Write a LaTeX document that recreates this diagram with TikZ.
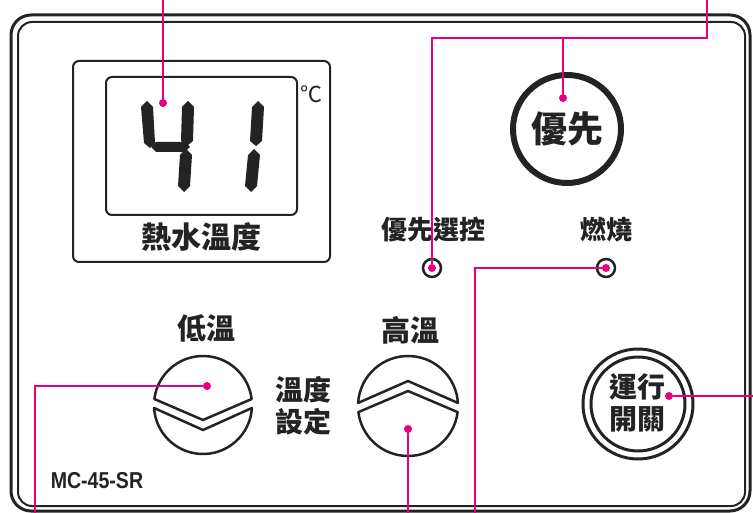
\documentclass[tikz,border=0pt]{standalone}
\usepackage{fontspec}
\usepackage{xcolor}
\usepackage{tikz}
\usetikzlibrary{calc}
\newfontfamily\cjk{Noto Sans CJK TC}
\newfontfamily\lbl{Liberation Sans}
\definecolor{leadpink}{RGB}{230,0,126}
\definecolor{panelink}{RGB}{35,35,35}

\tikzset{
  lead/.style={leadpink, line width=1.5pt},
  leaddot/.style={circle, fill=leadpink, inner sep=0pt, minimum size=8pt},
  cjklabel/.style 2 args={panelink, inner sep=0pt, font=\cjk\bfseries\fontsize{#1}{#2}\selectfont},
  segm/.style={fill=panelink},
  knob/.style={panelink, line width=2.5pt, line join=round},
  ring/.style={circle, draw=panelink, inner sep=0pt},
}

\begin{document}
\begin{tikzpicture}[x=1pt, y=-1pt]
    \useasboundingbox (0,0) rectangle (753,513);

    % Panel frame
    \draw[panelink, line width=3pt, rounded corners=20pt] (11,15) rectangle (750,511);
    \draw[panelink, line width=2pt, rounded corners=14pt] (18,22) rectangle (745,506);

    % Temperature display
    \draw[panelink, line width=2pt, rounded corners=6pt] (73,61) rectangle (330,262);
    \draw[panelink, line width=2pt, rounded corners=6pt] (106,77) rectangle (297,215);
    \node[cjklabel={30}{30}] (temp) at (201,237) {熱水溫度};
    \node[panelink, inner sep=0pt, font=\cjk\fontsize{22}{22}\selectfont] (degc) at (311,94) {℃};

    % Digit 4
    \fill[segm] (147,101) -- (153,107) -- (155,143) -- (150,148) -- (144,143) -- (141,107) -- cycle;
    \fill[segm] (151,147) -- (156,142) -- (185,142) -- (190,147) -- (185,152) -- (156,152) -- cycle;
    \fill[segm] (188,101) -- (194,107) -- (193,141) -- (187,146) -- (181,141) -- (182,107) -- cycle;
    \fill[segm] (186,149) -- (192,155) -- (190,186) -- (184,192) -- (178,186) -- (180,155) -- cycle;
    % Digit 1
    \fill[segm] (258,101) -- (264,107) -- (262,141) -- (256,146) -- (250,141) -- (252,107) -- cycle;
    \fill[segm] (254,149) -- (260,155) -- (257,186) -- (251,192) -- (245,186) -- (248,155) -- cycle;

    % Priority button and lamps
    \node[ring, line width=6pt, minimum size=108pt, cjklabel={36}{36}] (prio) at (567,129) {優先};
    \node[cjklabel={26}{26}] (priosel) at (433,230) {優先選控};
    \node[cjklabel={26}{26}] (burn) at (606,230) {燃燒};
    \node[ring, line width=2.5pt, minimum size=18pt] (ledsel) at (432,268) {};
    \node[ring, line width=2.5pt, minimum size=18pt] (ledburn) at (606,268) {};

    % Temperature setting buttons
    \node[cjklabel={29}{29}] (low) at (206,328) {低溫};
    \node[cjklabel={29}{29}] (high) at (410,330) {高溫};
    \node[cjklabel={28}{32}, align=center] (tset) at (303,406) {溫度\\設定};
    \begin{scope}[shift={(203,405)}]
      \draw[knob] (187:49) arc[start angle=187, end angle=353, radius=49] -- (0,15) -- cycle;
      \draw[knob] (3.5:49) arc[start angle=3.5, end angle=176.5, radius=49] -- (0,25) -- cycle;
    \end{scope}
    \begin{scope}[shift={(408,406)}]
      \draw[knob] (183.5:50) arc[start angle=183.5, end angle=356.5, radius=50] -- (0,-25) -- cycle;
      \draw[knob] (7:50) arc[start angle=7, end angle=173, radius=50] -- (0,-15) -- cycle;
    \end{scope}

    % Run switch
    \node[ring, line width=3pt, minimum size=110pt] (run) at (638,404) {};
    \node[ring, line width=3pt, minimum size=94pt] (runin) at (638,404) {};
    \node[cjklabel={28}{32}, align=center] (runtext) at (637,403) {運行\\開關};

    % Model name
    \node[panelink, inner sep=0pt, xscale=0.85, font=\lbl\bfseries\fontsize{23}{23}\selectfont] (model) at (97,481) {MC-45-SR};

    % Leader lines
    \node[leaddot] (dtemp) at (163,103) {};
    \node[leaddot] (dprio) at (563,98) {};
    \node[leaddot] (dsel) at (432,268) {};
    \node[leaddot] (dburn) at (606,268) {};
    \node[leaddot] (dlow) at (207,386) {};
    \node[leaddot] (dhigh) at (408,429) {};
    \node[leaddot] (drun) at (669,396) {};
    \coordinate (etemp) at (163,0);
    \coordinate (bprio) at (707,38);
    \coordinate (eprio) at (707,0);
    \coordinate (eburn) at (475,513);
    \coordinate (elow) at (35,513);
    \coordinate (ehigh) at (408,513);
    \coordinate (erun) at (753,396);
    \draw[lead] (dtemp) -- (etemp);
    \draw[lead] (dsel) |- (bprio) -- (eprio);
    \draw[lead] (dprio) -- (dprio |- bprio);
    \draw[lead] (dburn) -| (eburn);
    \draw[lead] (dlow) -| (elow);
    \draw[lead] (dhigh) -- (ehigh);
    \draw[lead] (drun) -- (erun);
\end{tikzpicture}
\end{document}
